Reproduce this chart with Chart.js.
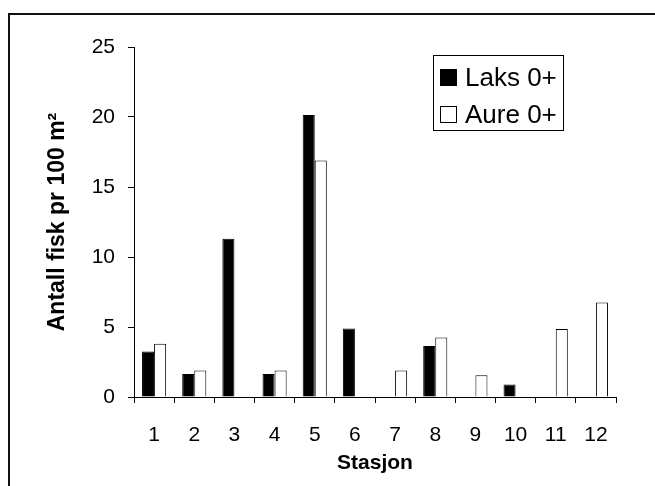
<!DOCTYPE html>
<html>
<head>
<meta charset="utf-8">
<script src="https://cdn.jsdelivr.net/npm/chart.js@4"></script>
<style>
    html, body { margin: 0; padding: 0; background: #fff; overflow: hidden; }
    #frame {
        position: absolute; left: 8px; top: 13px;
        width: 720px; height: 600px;
        border: 2px solid #111;
    }
    #chart { position: absolute; left: 0; top: 0; }
</style>
</head>
<body>
<div id="frame"></div>
<canvas id="chart" width="655" height="486"></canvas>
<script>
// --- Data ---
const stasjoner = ['1', '2', '3', '4', '5', '6', '7', '8', '9', '10', '11', '12'];
const laks = [3.25, 1.65, 11.3, 1.65, 20.15, 4.9, null, 3.65, null, 0.9, null, null];
const aure = [3.8, 1.9, null, 1.9, 16.9, null, 1.9, 4.25, 1.55, null, 4.85, 6.75];
const yMax = 25;
const yStep = 5;

const FONT = '"Liberation Sans", Arial, sans-serif';

// --- Boxed legend inside the plot (old Excel style) ---
const boxLegend = {
    id: 'boxLegend',
    afterDraw(chart) {
        const ctx = chart.ctx;
        const x = 433, y = 55, w = 130, h = 75;
        ctx.save();
        ctx.fillStyle = '#fff';
        ctx.fillRect(x, y, w, h);
        ctx.strokeStyle = '#000';
        ctx.lineWidth = 1;
        ctx.strokeRect(x + 0.5, y + 0.5, w, h);
        ctx.font = '26px ' + FONT;
        ctx.textBaseline = 'alphabetic';
        chart.data.datasets.forEach((ds, i) => {
            const base = 86 + i * 37;
            ctx.fillStyle = ds.backgroundColor;
            ctx.fillRect(440, base - 17, 17, 17);
            ctx.strokeStyle = '#000';
            ctx.strokeRect(440.5, base - 16.5, 16, 16);
            ctx.fillStyle = '#000';
            ctx.fillText(ds.label, 465, base);
        });
        ctx.restore();
    }
};

new Chart(document.getElementById('chart'), {
    type: 'bar',
    data: {
        labels: stasjoner,
        datasets: [
            {
                label: 'Laks 0+',
                data: laks,
                backgroundColor: '#000',
                borderColor: '#000',
                borderWidth: 1
            },
            {
                label: 'Aure 0+',
                data: aure,
                backgroundColor: '#fff',
                borderColor: '#000',
                borderWidth: 1
            }
        ]
    },
    options: {
        responsive: false,
        animation: false,
        devicePixelRatio: 1,
        layout: { padding: { left: 0, top: 47, right: 39, bottom: 0 } },
        plugins: {
            legend: { display: false },
            tooltip: { enabled: false }
        },
        datasets: {
            bar: { categoryPercentage: 0.6, barPercentage: 1.0 }
        },
        scales: {
            x: {
                afterFit: (scale) => { scale.height = 89; },
                grid: {
                    offset: true,
                    drawOnChartArea: false,
                    color: '#000',
                    tickLength: 6
                },
                border: { color: '#000', width: 1 },
                ticks: {
                    color: '#000',
                    padding: 20,
                    font: { family: FONT, size: 21 }
                },
                title: {
                    display: true,
                    text: 'Stasjon',
                    color: '#000',
                    font: { family: FONT, size: 21, weight: 'bold' },
                    padding: { top: 0, bottom: 10 }
                }
            },
            y: {
                min: 0,
                max: yMax,
                afterFit: (scale) => { scale.width = 134; },
                grid: {
                    drawOnChartArea: false,
                    color: '#000',
                    tickLength: 6
                },
                border: { color: '#000', width: 1 },
                ticks: {
                    stepSize: yStep,
                    color: '#000',
                    padding: 13,
                    font: { family: FONT, size: 21 }
                },
                title: {
                    display: true,
                    text: 'Antall fisk pr 100 m²',
                    color: '#000',
                    font: { family: FONT, size: 23, weight: 'bold' },
                    padding: { top: 44, bottom: 0 }
                }
            }
        }
    },
    plugins: [boxLegend]
});
</script>
</body>
</html>
